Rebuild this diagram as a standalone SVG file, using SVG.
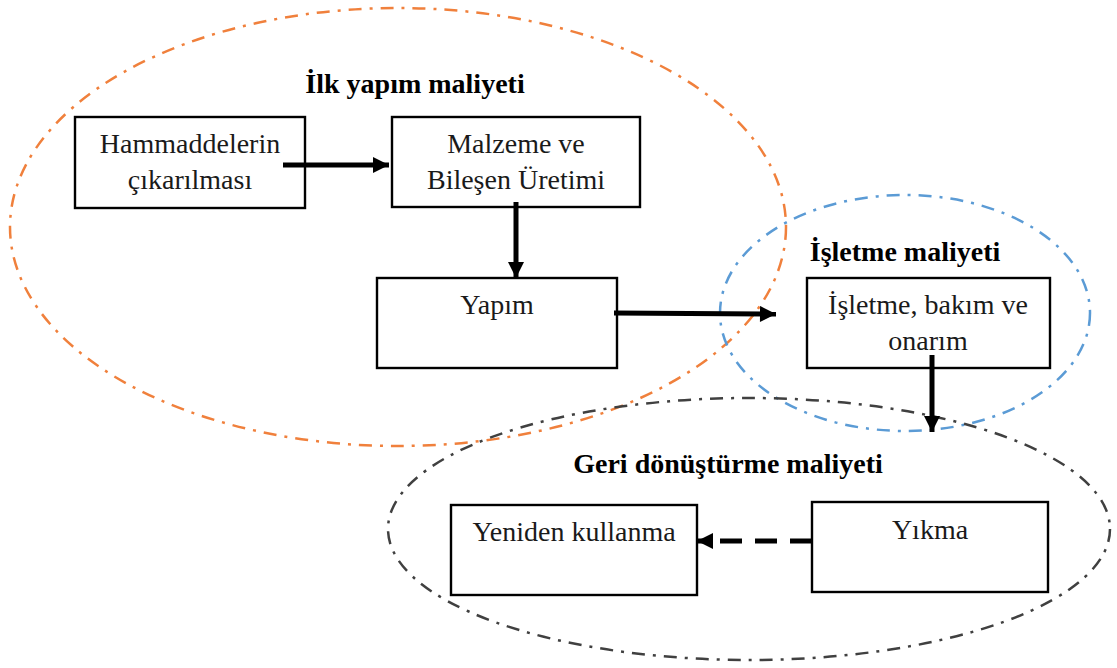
<svg xmlns="http://www.w3.org/2000/svg" width="1117" height="668" viewBox="0 0 1117 668">
<defs>
<style>
.box{fill:#fff;stroke:#000;stroke-width:2.4}
.t{font-family:"Liberation Serif","Times New Roman",serif;font-size:28px;fill:#1a1a1a;text-anchor:middle}
.h{font-family:"Liberation Serif","Times New Roman",serif;font-size:28px;font-weight:bold;fill:#000;text-anchor:middle}
.ell{fill:none;stroke-width:2.5;stroke-dasharray:13 8 3 8}
.arr{stroke:#000;stroke-width:5;fill:none}
</style>
<marker id="ah" viewBox="0 0 10 10" refX="10" refY="5" markerWidth="3.4" markerHeight="3.2" orient="auto" markerUnits="strokeWidth">
<path d="M0,0 L10,5 L0,10 Z" fill="#000"/>
</marker>
</defs>
<rect width="1117" height="668" fill="#fff"/>
<g id="groups">
<ellipse id="ilk" class="ell" cx="398" cy="227" rx="388" ry="219" stroke="#f0803c"/>
<ellipse id="isletme" class="ell" cx="905" cy="313" rx="185" ry="118" stroke="#5b9bd5"/>
<ellipse id="geri" class="ell" cx="749" cy="529" rx="361" ry="131" stroke="#404040"/>
<text class="h" x="415" y="93">İlk yapım maliyeti</text>
<text class="h" x="905" y="261">İşletme maliyeti</text>
<text class="h" x="728" y="473">Geri dönüştürme maliyeti</text>
</g>
<g id="n1"><rect class="box" x="75" y="117" width="230" height="91"/><text class="t" x="190" y="153">Hammaddelerin</text><text class="t" x="190" y="189">çıkarılması</text></g>
<g id="n2"><rect class="box" x="392" y="117" width="248" height="90"/><text class="t" x="516" y="153">Malzeme ve</text><text class="t" x="516" y="189">Bileşen Üretimi</text></g>
<g id="n3"><rect class="box" x="377" y="278" width="240" height="90"/><text class="t" x="497" y="314">Yapım</text></g>
<g id="n4"><rect class="box" x="807" y="278" width="243" height="90"/><text class="t" x="928" y="314">İşletme, bakım ve</text><text class="t" x="928" y="350">onarım</text></g>
<g id="n5"><rect class="box" x="451" y="505" width="246" height="90"/><text class="t" x="574" y="541">Yeniden kullanma</text></g>
<g id="n6"><rect class="box" x="812" y="502" width="236" height="90"/><text class="t" x="930" y="539">Yıkma</text></g>
<g id="connectors">
<line class="arr" x1="283" y1="165" x2="389" y2="165" marker-end="url(#ah)"/>
<line class="arr" x1="516" y1="202" x2="516" y2="278" marker-end="url(#ah)"/>
<line class="arr" x1="614" y1="313" x2="776" y2="314" marker-end="url(#ah)"/>
<line class="arr" x1="932" y1="355" x2="932" y2="432" marker-end="url(#ah)"/>
<line class="arr" x1="812" y1="541" x2="697" y2="541" stroke-dasharray="22 13" marker-end="url(#ah)"/>
</g>
</svg>
